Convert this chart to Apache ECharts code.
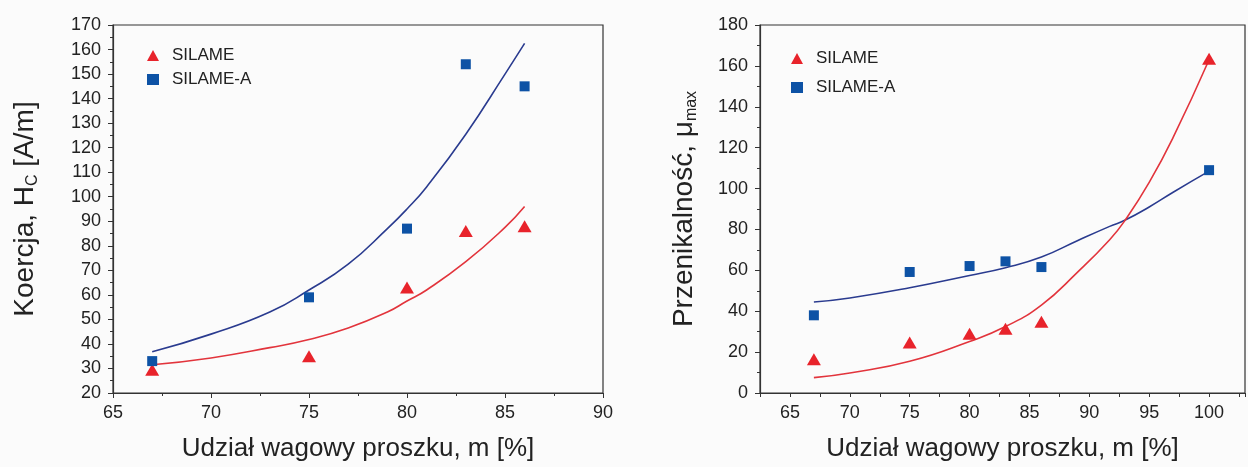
<!DOCTYPE html>
<html>
<head>
<meta charset="utf-8">
<script src="https://cdn.jsdelivr.net/npm/echarts@6/dist/echarts.min.js"></script>
<style>
  html, body { margin: 0; padding: 0; background: #fbfbfb; }
  #chart { width: 1248px; height: 467px; }
</style>
</head>
<body>
<div id="chart"></div>
<script>
// measured points, left panel (koercja H_C)
const xHc = [67, 75, 80, 83, 86]
const hcSilame = [29.5, 35, 63, 86, 88]
const hcSilameA = [33, 59, 87, 154, 145]
// fitted curves
const hcFitX = [67, 70, 73, 75, 77, 79, 80, 81, 83, 85, 86]
const hcFitSilame = [31.5, 34.3, 38.5, 41.8, 46.5, 53, 57.5, 62, 73.5, 87.5, 96]
const hcFitSilameA = [36.8, 44, 53, 62, 72.5, 87, 95, 104, 125.5, 150, 162.5]

// right panel (przenikalnosc mu_max)
const xMu = [67, 75, 80, 83, 86, 100]
const muSilame = [16.5, 24.7, 29, 31.4, 34.8, 163.5]
const muSilameA = [38, 59.2, 62.1, 64.4, 61.6, 109]
const muFitX = [67, 70, 75, 80, 83, 86, 89, 91.7, 93, 95, 97, 100]
const muFitSilame = [7.5, 9.8, 15.5, 25.2, 32.5, 43, 59, 75, 84.6, 103, 125, 163]
const muFitSilameA = [44.5, 46.5, 51.5, 57.5, 61.3, 66.5, 74.5, 81.5, 84.6, 91, 98.2, 108.5]

const legendNames = ['SILAME', 'SILAME-A']
const xTitle = 'Udział wagowy proszku, m [%]'

const RED = '#e8232b'
const BLUE = '#0d52a5'
const RED_LINE = '#e2343c'
const BLUE_LINE = '#2a3b8f'
const FONT = 'Liberation Sans, Arial, sans-serif'
const INK = '#222'

const zip = (xs, ys) => xs.map((x, i) => [x, ys[i]])

const axisBase = {
  axisLine: { lineStyle: { color: '#333', width: 1.2 } },
  axisTick: { inside: false, length: 5, lineStyle: { color: '#333' } },
  minorTick: { show: true, splitNumber: 2, length: 3, lineStyle: { color: '#333' } },
  splitLine: { show: false },
  axisLabel: { color: INK, fontSize: 18, fontFamily: FONT }
}

const nameStyle = (size, subSize) => ({
  color: INK,
  fontSize: size,
  fontFamily: FONT,
  rich: {
    sub: { fontSize: subSize, fontFamily: FONT, color: INK, padding: [16, 0, 0, 0] }
  }
})

const fitLine = (name, gi, data, color) => ({
  name: name,
  type: 'line',
  xAxisIndex: gi,
  yAxisIndex: gi,
  data: data,
  smooth: 0.5,
  showSymbol: false,
  silent: true,
  lineStyle: { color: color, width: 1.6 },
  z: 2
})

const points = (name, gi, data, symbol, size, color) => ({
  name: name,
  type: 'scatter',
  xAxisIndex: gi,
  yAxisIndex: gi,
  data: data,
  symbol: symbol,
  symbolSize: size,
  itemStyle: { color: color, opacity: 1 },
  z: 3
})

const legendBox = (left, top, gap) => ({
  data: legendNames, orient: 'vertical', left: left, top: top,
  itemWidth: 12, itemHeight: 11, itemGap: gap,
  textStyle: { color: INK, fontSize: 17, fontFamily: FONT, padding: [0, 0, 0, 8] }
})

const option = {
  backgroundColor: '#fbfbfb',
  animation: false,
  textStyle: { fontFamily: FONT },
  grid: [
    { left: 113, top: 25, width: 490, height: 368, show: true, borderColor: '#333', borderWidth: 1.2, backgroundColor: 'transparent' },
    { left: 760, top: 25, width: 485, height: 368, show: true, borderColor: '#333', borderWidth: 1.2, backgroundColor: 'transparent' }
  ],
  legend: [
    legendBox(142, 42, 7),
    legendBox(786, 45, 12)
  ],
  xAxis: [
    Object.assign({}, axisBase, {
      type: 'value', gridIndex: 0, min: 65, max: 90, interval: 5,
      axisLabel: Object.assign({}, axisBase.axisLabel, { margin: 11 }),
      name: xTitle, nameLocation: 'middle', nameGap: 43,
      nameTextStyle: nameStyle(26, 16)
    }),
    // right panel starts at 62.5, so ticks every 2.5 and labels only on the fives
    Object.assign({}, axisBase, {
      type: 'value', gridIndex: 1, min: 62.5, max: 103, interval: 2.5,
      axisTick: Object.assign({}, axisBase.axisTick, { length: 4 }),
      minorTick: { show: false },
      axisLabel: Object.assign({}, axisBase.axisLabel, {
        margin: 11,
        formatter: (v) => (v % 5 === 0 ? String(v) : '')
      }),
      name: xTitle, nameLocation: 'middle', nameGap: 43,
      nameTextStyle: nameStyle(26, 16)
    })
  ],
  yAxis: [
    Object.assign({}, axisBase, {
      type: 'value', gridIndex: 0, min: 20, max: 170, interval: 10,
      axisLabel: Object.assign({}, axisBase.axisLabel, { margin: 12 }),
      name: 'Koercja, H{sub|C} [A/m]', nameLocation: 'middle', nameGap: 72,
      nameTextStyle: nameStyle(28, 16)
    }),
    Object.assign({}, axisBase, {
      type: 'value', gridIndex: 1, min: 0, max: 180, interval: 20,
      axisLabel: Object.assign({}, axisBase.axisLabel, { margin: 12 }),
      name: 'Przenikalność, μ{sub|max}', nameLocation: 'middle', nameGap: 60,
      nameTextStyle: nameStyle(28, 16)
    })
  ],
  series: [
    fitLine('fit SILAME-A Hc', 0, zip(hcFitX, hcFitSilameA), BLUE_LINE),
    fitLine('fit SILAME Hc', 0, zip(hcFitX, hcFitSilame), RED_LINE),
    points('SILAME', 0, zip(xHc, hcSilame), 'triangle', [14, 12], RED),
    points('SILAME-A', 0, zip(xHc, hcSilameA), 'rect', 10, BLUE),

    fitLine('fit SILAME-A mu', 1, zip(muFitX, muFitSilameA), BLUE_LINE),
    fitLine('fit SILAME mu', 1, zip(muFitX, muFitSilame), RED_LINE),
    points('SILAME', 1, zip(xMu, muSilame), 'triangle', [14, 12], RED),
    points('SILAME-A', 1, zip(xMu, muSilameA), 'rect', 10, BLUE)
  ]
}

const chart = echarts.init(document.getElementById('chart'))
chart.setOption(option)
</script>
</body>
</html>
